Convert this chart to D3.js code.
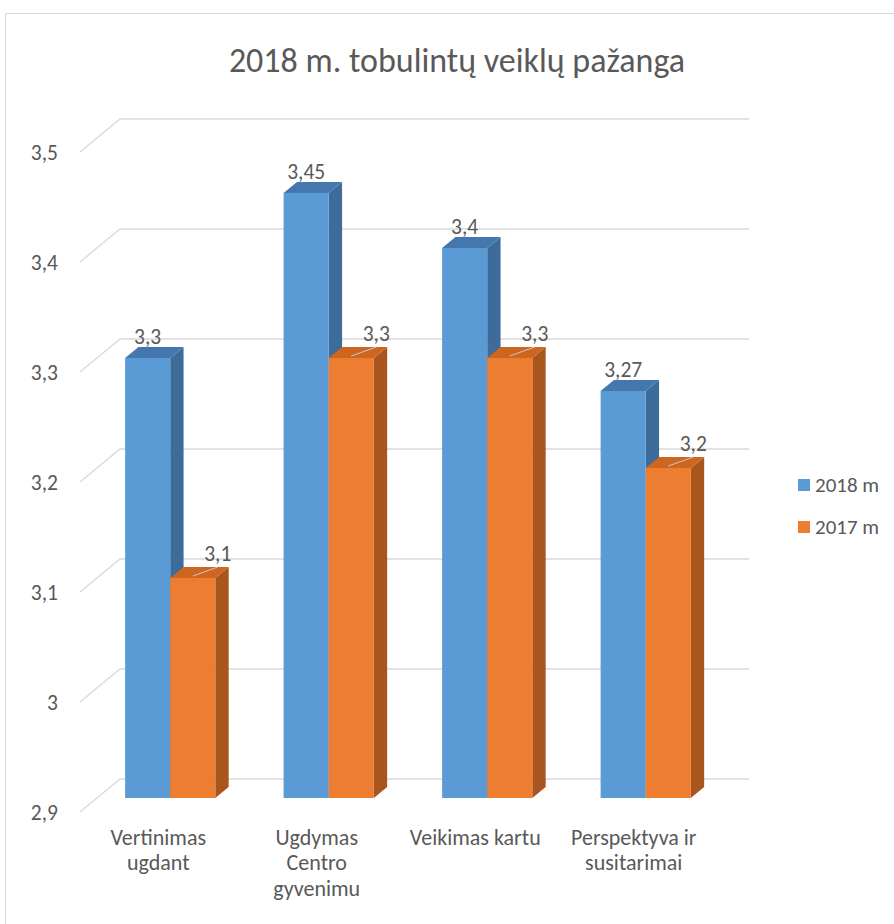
<!DOCTYPE html>
<html>
<head>
<meta charset="utf-8">
<script src="https://cdn.jsdelivr.net/npm/d3@7"></script>
<style>
    body { margin: 0; background: #fff; }
    text { font-family: Carlito, Calibri, Lato, sans-serif; fill: #595959; }
</style>
</head>
<body>
<svg></svg>
<script>
const TITLE = '2018 m. tobulintų veiklų pažanga';
const CATEGORIES = ['Vertinimas ugdant', 'Ugdymas Centro gyvenimu', 'Veikimas kartu', 'Perspektyva ir susitarimai'];
const CATEGORY_LINES = [['Vertinimas', 'ugdant'], ['Ugdymas', 'Centro', 'gyvenimu'], ['Veikimas kartu'], ['Perspektyva ir', 'susitarimai']];
const SERIES = ['2018 m', '2017 m'];
const VALUES_2018 = [3.3, 3.45, 3.4, 3.27];
const VALUES_2017 = [3.1, 3.3, 3.3, 3.2];
const Y_TICKS = [2.9, 3, 3.1, 3.2, 3.3, 3.4, 3.5];

const COLORS = {
    '2018 m': { front: '#5b9bd5', side: '#3d6c9b', top: '#4377ad' },
    '2017 m': { front: '#ed7d31', side: '#a9561e', top: '#cf6620' },
};

const WIDTH = 894;
const HEIGHT = 924;
// back wall of the 3d plot
const WALL = { left: 120, right: 749, top: 119, bottom: 779 };
// offset of the front edge of the floor from the back wall
const DEPTH = { dx: -40, dy: 33 };
// depth of bar front / back faces (0 = back wall, 1 = front)
const Z_FRONT = 0.576;
const Z_BACK = 0.242;

const fmt = d3.formatLocale({ decimal: ',', thousands: ' ', grouping: [3], currency: ['', ''] }).format('~g');

const y = d3.scaleLinear().domain([2.9, 3.5]).range([WALL.bottom, WALL.top]);
const x0 = d3.scaleBand().domain(CATEGORIES).range([114, 748]).paddingInner(0.431).paddingOuter(0.2155);
const x1 = d3.scaleBand().domain(SERIES).range([0, x0.bandwidth()]);

const proj = (X, v, z) => [X + z * DEPTH.dx, y(v) + z * DEPTH.dy];

const svg = d3.select('svg').attr('width', WIDTH).attr('height', HEIGHT);

svg.append('rect')
    .attr('x', 5.5).attr('y', 13.5)
    .attr('width', 900).attr('height', 940)
    .attr('fill', '#fff')
    .attr('stroke', '#d9d9d9');

svg.append('text')
    .attr('x', 457).attr('y', 60)
    .attr('dy', '0.35em')
    .attr('text-anchor', 'middle')
    .style('font-size', '34px')
    .text(TITLE);

// gridlines: left wall diagonal + back wall line
const grid = svg.append('g').attr('stroke', '#d9d9d9').attr('fill', 'none').attr('stroke-width', 1.3);
grid.selectAll('path')
    .data(Y_TICKS)
    .enter()
    .append('path')
    .attr('d', (d) => {
        const f = proj(WALL.left, d, 1);
        return `M${f[0]},${f[1]}L${WALL.left},${y(d)}L${WALL.right},${y(d)}`;
    });

svg.append('g')
    .selectAll('text')
    .data(Y_TICKS)
    .enter()
    .append('text')
    .attr('x', 58)
    .attr('y', (d) => y(d) + DEPTH.dy)
    .attr('dy', '0.35em')
    .attr('text-anchor', 'end')
    .style('font-size', '21.5px')
    .text((d) => fmt(d));

// bars
const barData = [];
CATEGORIES.forEach((cat, i) => {
    barData.push({ cat, series: SERIES[0], value: VALUES_2018[i] });
    barData.push({ cat, series: SERIES[1], value: VALUES_2017[i] });
});

const poly = (pts) => 'M' + pts.map((p) => p.join(',')).join('L') + 'Z';

const bars = svg.append('g')
    .selectAll('g')
    .data(barData)
    .enter()
    .append('g');

bars.each(function (d) {
    const g = d3.select(this);
    const a = x0(d.cat) + x1(d.series);
    const b = a + x1.bandwidth();
    const base = y.domain()[0];
    const c = COLORS[d.series];
    g.append('path')
        .attr('d', poly([proj(b, base, Z_FRONT), proj(b, d.value, Z_FRONT), proj(b, d.value, Z_BACK), proj(b, base, Z_BACK)]))
        .attr('fill', c.side);
    g.append('path')
        .attr('d', poly([proj(a, d.value, Z_FRONT), proj(b, d.value, Z_FRONT), proj(b, d.value, Z_BACK), proj(a, d.value, Z_BACK)]))
        .attr('fill', c.top);
    g.append('path')
        .attr('d', poly([proj(a, base, Z_FRONT), proj(b, base, Z_FRONT), proj(b, d.value, Z_FRONT), proj(a, d.value, Z_FRONT)]))
        .attr('fill', c.front);
});

// data labels
bars.each(function (d) {
    const g = d3.select(this);
    const a = x0(d.cat) + x1(d.series);
    const top = proj(a + x1.bandwidth() / 2, d.value, Z_FRONT);
    let lx = top[0];
    let ly = top[1] - 22;
    if (d.series === SERIES[1]) {
        lx += 25;
        ly -= 3;
        g.append('line')
            .attr('x1', lx).attr('y1', ly + 14)
            .attr('x2', top[0]).attr('y2', top[1] - 2)
            .attr('stroke', '#c8c8c8')
            .attr('stroke-width', 1);
    }
    g.append('text')
        .attr('x', lx).attr('y', ly)
        .attr('dy', '0.35em')
        .attr('text-anchor', 'middle')
        .style('font-size', '21.5px')
        .text(fmt(d.value));
});

// category labels at the front edge of the floor
const catLabels = svg.append('g')
    .selectAll('text')
    .data(CATEGORIES)
    .enter()
    .append('text')
    .attr('text-anchor', 'middle')
    .style('font-size', '22px')
    .attr('transform', (d) => `translate(${x0(d) + x0.bandwidth() / 2 + DEPTH.dx + 5}, 837)`);

catLabels.selectAll('tspan')
    .data((d, i) => CATEGORY_LINES[i])
    .enter()
    .append('tspan')
    .attr('x', 0)
    .attr('y', (d, i) => i * 25.5)
    .attr('dy', '0.35em')
    .text((d) => d);

// legend
const legend = svg.append('g')
    .selectAll('g')
    .data(SERIES)
    .enter()
    .append('g')
    .attr('transform', (d, i) => `translate(798, ${485 + i * 42})`);

legend.append('rect')
    .attr('x', 0).attr('y', -6)
    .attr('width', 12).attr('height', 12)
    .attr('fill', (d) => COLORS[d].front);

legend.append('text')
    .attr('x', 17)
    .attr('dy', '0.35em')
    .style('font-size', '21px')
    .text((d) => d);
</script>
</body>
</html>
